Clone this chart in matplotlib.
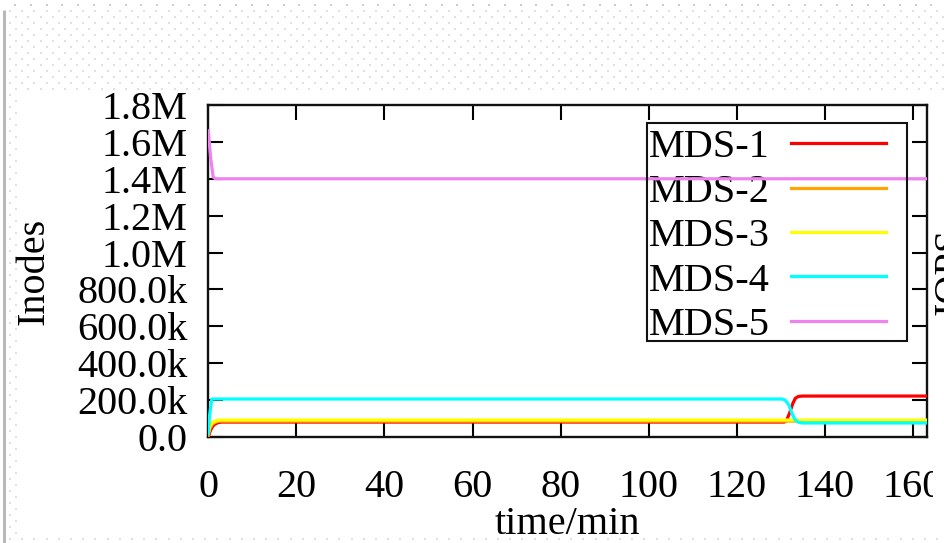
import matplotlib
matplotlib.use('Agg')
import matplotlib.pyplot as plt
import numpy as np
from matplotlib.patches import Rectangle
from matplotlib.transforms import Bbox

plt.rcParams['font.family'] = ['Liberation Serif', 'DejaVu Serif']

# ---------------- data ----------------
labels = ['MDS-1', 'MDS-2', 'MDS-3', 'MDS-4', 'MDS-5']
colors = ['#ff0000', '#ffa500', '#ffff00', '#00ffff', '#ee82ee']

t_mds1 = [0, 0.4, 0.9, 1.5, 2.2, 3.0, 130.8, 131.3, 132.0, 132.7, 133.3, 134.0, 135.0, 163.2]
v_mds1 = [0, 30e3, 55e3, 70e3, 78e3, 81e3, 81e3, 90e3, 130e3, 180e3, 210e3, 220e3, 222e3, 222e3]

t_mds2 = [0, 0.4, 1.0, 1.8, 2.6, 163.2]
v_mds2 = [10e3, 50e3, 72e3, 82e3, 86e3, 86e3]

t_mds3 = [0, 0.4, 1.0, 1.8, 2.6, 163.2]
v_mds3 = [25e3, 60e3, 80e3, 89e3, 92e3, 92e3]

t_mds4 = [0, 0.3, 0.8, 130.3, 131.0, 131.8, 132.5, 133.2, 134.0, 135.0, 163.2]
v_mds4 = [20e3, 120e3, 206e3, 206e3, 200e3, 175e3, 130e3, 95e3, 80e3, 76e3, 76e3]

t_mds5 = [0, 0.5, 1.1, 1.6, 163.2]
v_mds5 = [1.66e6, 1.52e6, 1.41e6, 1.40e6, 1.40e6]

series_t = [t_mds1, t_mds2, t_mds3, t_mds4, t_mds5]
series_v = [v_mds1, v_mds2, v_mds3, v_mds4, v_mds5]

xticks = [0, 20, 40, 60, 80, 100, 120, 140, 160]
yticks = [0, 200e3, 400e3, 600e3, 800e3, 1.0e6, 1.2e6, 1.4e6, 1.6e6, 1.8e6]
ytick_labels = ['0.0', '200.0k', '400.0k', '600.0k', '800.0k', '1.0M', '1.2M', '1.4M', '1.6M', '1.8M']

# ---------------- figure ----------------
W, H = 944, 543
fig = plt.figure(figsize=(W / 100, H / 100), dpi=100)
fig.patch.set_facecolor('white')

def fx(px):
    return px / W

def fy(py):
    return 1 - py / H

# page background (dotted paper outside the chart image)
bg = fig.add_axes([0, 0, 1, 1], zorder=-5)
bg.set_xlim(0, W)
bg.set_ylim(H, 0)
bg.axis('off')
dx, dy = [], []
for i, yy in enumerate(np.arange(10.7, H, 6.0)):
    x0 = 10.0 if i % 2 == 0 else 16.1
    for xx in np.arange(x0, W, 12.2):
        if xx >= 19 and 92 <= yy <= 538:
            continue
        dx.append(xx)
        dy.append(yy)
bg.scatter(dx, dy, s=1.6, marker='s', color='#e0e0e0', linewidths=0)
topx = np.arange(15, W, 15.8)
bg.scatter(topx, np.full_like(topx, 5.0), s=2.4, marker='s', color='#cccccc', linewidths=0)
bg.plot([3.6, 3.6], [10, H], color='#b8b8b8', lw=2.2, solid_capstyle='butt')

# main axes
x0p, x1p, y0p, y1p = 208.3, 927, 437, 105
ax = fig.add_axes([fx(x0p), fy(y0p), (x1p - x0p) / W, (y0p - y1p) / H])
ax.set_facecolor('none')

for t, v, c, lab in zip(series_t, series_v, colors, labels):
    ax.plot(t, v, color=c, lw=2.3, label=lab, solid_joinstyle='round', zorder=12)

ax.set_xlim(0, 163.2)
ax.set_ylim(0, 1.8e6)
ax.set_xticks(xticks)
ax.set_yticks(yticks)
ax.set_yticklabels(ytick_labels)

fs = 29
ax.tick_params(direction='in', length=11, width=1.5, top=True, right=True,
               labelsize=fs, colors='black')
ax.tick_params(axis='y', pad=15)
ax.tick_params(axis='x', pad=23)
for sp in ax.spines.values():
    sp.set_linewidth(1.7)
    sp.set_color('#111111')

ax.set_ylabel('Inodes', fontsize=fs, va='center')
ax.yaxis.set_label_coords((34 - x0p) / (x1p - x0p), 0.5)
ax.set_xlabel('time/min', fontsize=fs, va='center')
ax.xaxis.set_label_coords(0.5, (y0p - 524) / (y0p - y1p))

# the chart image was cropped at the right edge
clip = Bbox.from_extents(0, 0, 933, H)
for lbl in ax.get_xticklabels():
    lbl.set_clip_box(clip)
    lbl.set_clip_on(True)

fig.text(fx(932), fy(271), 'IOPS', rotation=90, ha='left', va='center', fontsize=fs)

# legend
leg = ax.legend(loc='upper left', bbox_to_anchor=(fx(649), fy(129)),
                bbox_transform=fig.transFigure, frameon=False, markerfirst=False,
                borderpad=0, borderaxespad=0, handlelength=2.36, handletextpad=0.52,
                labelspacing=0.18, fontsize=fs)
for ln in leg.get_lines():
    ln.set_linewidth(2.3)
fig.add_artist(Rectangle((fx(647), fy(341)), fx(907) - fx(647), fy(123) - fy(341),
                         transform=fig.transFigure, fill=False, edgecolor='#111111',
                         lw=1.5, zorder=10))

fig.savefig('out.png', dpi=100)
